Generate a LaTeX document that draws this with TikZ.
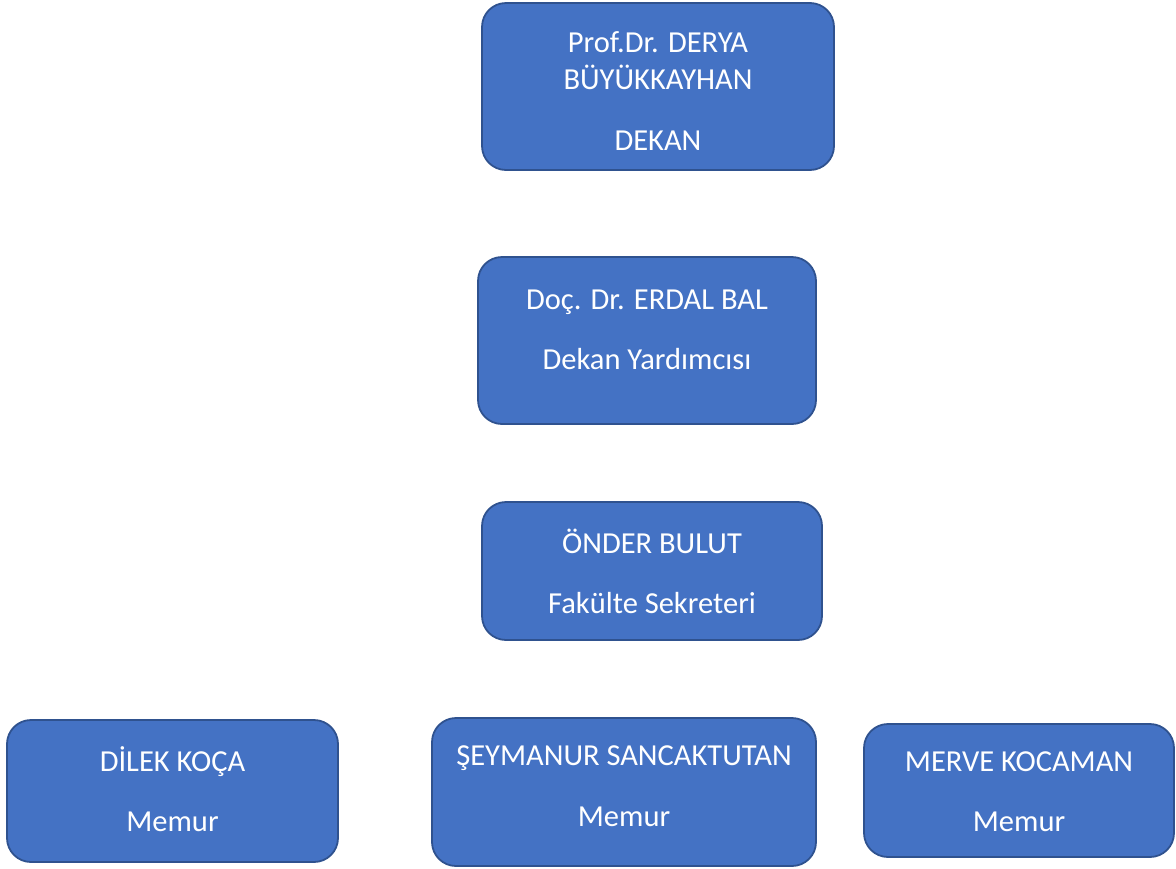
\documentclass[tikz,border=0pt]{standalone}
\usepackage{fontspec}
\setmainfont{Carlito}
\definecolor{boxfill}{HTML}{4472C4}
\definecolor{boxline}{HTML}{2F528F}
\begin{document}
\begin{tikzpicture}[x=1pt,y=-1pt,
  orgbox/.style={draw=boxline,fill=boxfill,line width=1.8pt,rounded corners=24pt,inner sep=0pt},
  orgtext/.style={text=white,align=center,inner sep=0pt,font=\fontsize{30.5}{37}\selectfont}]
\useasboundingbox (0,0) rectangle (1176,868);
\node[orgbox,minimum width=352pt,minimum height=167pt] (b1) at (658,86.5) {};
\node[orgbox,minimum width=338pt,minimum height=167pt] (b2) at (647,340.5) {};
\node[orgbox,minimum width=340pt,minimum height=138pt] (b3) at (652,571) {};
\node[orgbox,minimum width=331pt,minimum height=142pt] (b4) at (172.5,791) {};
\node[orgbox,minimum width=384pt,minimum height=148pt] (b5) at (624,792) {};
\node[orgbox,minimum width=310pt,minimum height=133pt] (b6) at (1019,790.5) {};
\node[orgtext] (t1) at (658,91) {Prof.Dr. DERYA\\BÜYÜKKAYHAN\\[24pt]DEKAN};
\node[orgtext] (t2) at (647,330) {Doç. Dr. ERDAL BAL\\[23pt]Dekan Yardımcısı};
\node[orgtext] (t3) at (652,571) {ÖNDER BULUT\\[23pt]Fakülte Sekreteri};
\node[orgtext] (t4) at (172.5,789) {DİLEK KOÇA\\[23pt]Memur};
\node[orgtext] (t5) at (624,786.5) {ŞEYMANUR SANCAKTUTAN\\[24pt]Memur};
\node[orgtext] (t6) at (1019,792) {MERVE KOCAMAN\\[23pt]Memur};
\end{tikzpicture}
\end{document}
